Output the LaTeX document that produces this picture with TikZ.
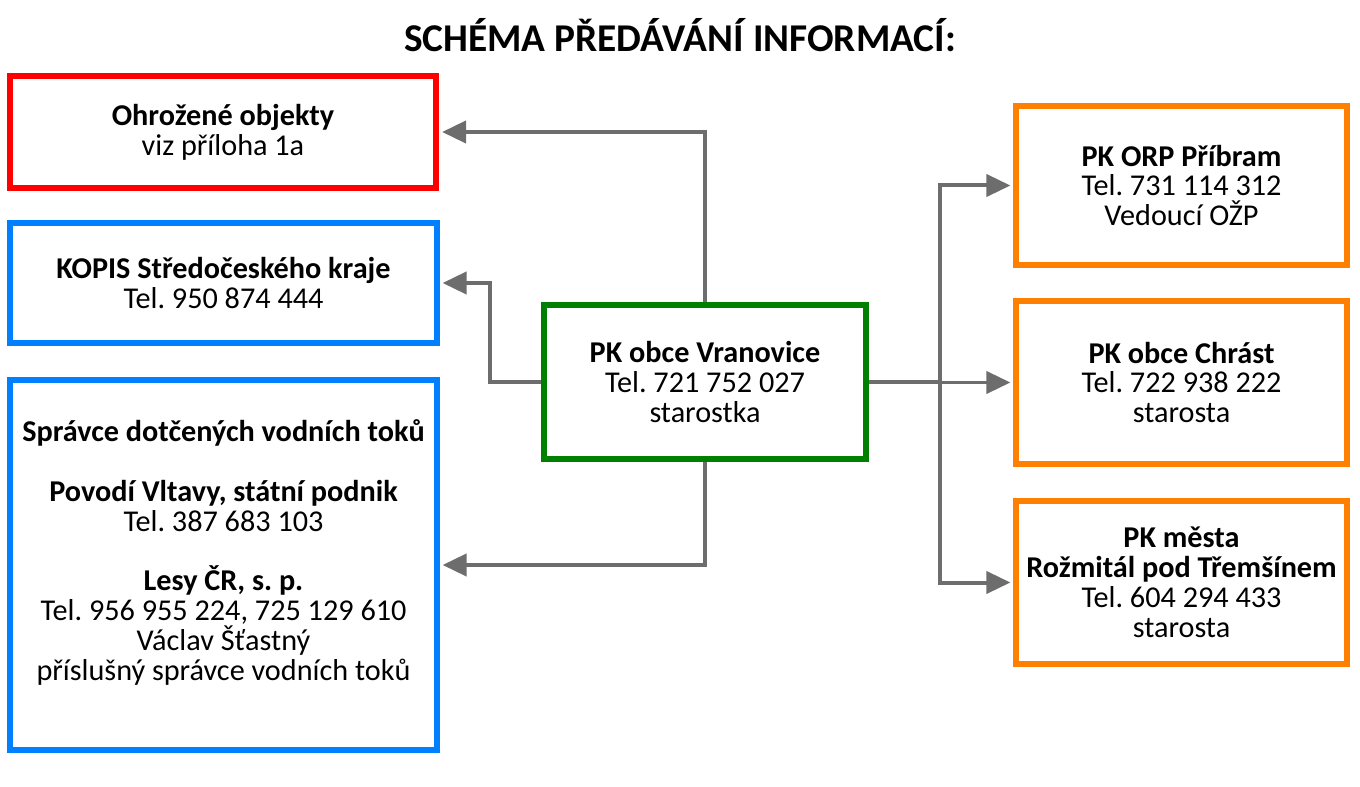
\documentclass[tikz,border=0pt]{standalone}
\usepackage{fontspec}
\setmainfont{Carlito}
\usepackage{tikz}
\usetikzlibrary{arrows.meta,positioning}
\usepackage{xcolor}
\definecolor{redcolor}{RGB}{255, 0, 0}
\definecolor{bluecolor}{RGB}{0, 128, 255}
\definecolor{greencolor}{RGB}{0, 128, 0}
\definecolor{orangecolor}{RGB}{255, 128, 0}
\definecolor{linecolor}{RGB}{109, 109, 109}
\frenchspacing

\begin{document}
\begin{tikzpicture}[
    x=0.02cm, y=-0.02cm,
    box/.style={rectangle, draw, line width=0.12cm, fill=white, align=center, inner sep=0pt, font=\fontsize{17.2}{17}\selectfont},
    leftbox/.style={box, minimum width=8.54cm},
    rightbox/.style={box, minimum width=6.62cm, minimum height=3.26cm, draw=orangecolor},
    line/.style={draw=linecolor, line width=0.08cm},
    conn/.style={line, -{Triangle[length=0.48cm, width=0.44cm]}, shorten >=1.5pt},
]
    \useasboundingbox (0,0) rectangle (1360,787);

    % Title
    \node[font=\bfseries\fontsize{22.4}{26}\selectfont] (title) at (680, 35) {SCHÉMA PŘEDÁVÁNÍ INFORMACÍ:};

    % Left boxes
    \node[leftbox, draw=redcolor, minimum height=2.24cm] (ohrozene) at (223, 132) {\textbf{Ohrožené objekty}\\viz příloha 1a};
    \node[leftbox, draw=bluecolor, minimum height=2.4cm] (kopis) at (223.5, 283) {\textbf{KOPIS Středočeského kraje}\\Tel. 950 874 444};
    \node[leftbox, draw=bluecolor, minimum height=7.4cm] (spravce) at (223.5, 565) {\textbf{Správce dotčených vodních toků}\\~\\\textbf{Povodí Vltavy, státní podnik}\\Tel. 387 683 103\\~\\\textbf{Lesy ČR, s. p.}\\Tel. 956 955 224, 725 129 610\\Václav Šťastný\\příslušný správce vodních toků\\~};

    % Center box
    \node[box, draw=greencolor, minimum width=6.44cm, minimum height=3.08cm] (vranovice) at (705, 382) {\textbf{PK obce Vranovice}\\Tel. 721 752 027\\starostka};

    % Right boxes
    \node[rightbox, minimum height=3.18cm] (orp) at (1181.5, 185.5) {\textbf{PK ORP Příbram}\\Tel. 731 114 312\\ Vedoucí OŽP};
    \node[rightbox] (chrast) at (1181.5, 382.5) {\textbf{PK obce Chrást}\\Tel. 722 938 222\\starosta};
    \node[rightbox] (rozmital) at (1181.5, 582.5) {\textbf{PK města}\\\textbf{Rožmitál pod Třemšínem}\\Tel. 604 294 433\\starosta};

    % Arrows
    \draw[conn] (vranovice.north) |- (ohrozene.east);
    \draw[conn] (vranovice.west) -- ++(-51, 0) |- (kopis.east);
    \draw[conn] (vranovice.south) |- (spravce.east);
    \coordinate (split) at (940, 382);
    \draw[line] (vranovice.east) -- (split);
    \foreach \n in {orp, chrast, rozmital} {
        \draw[conn] (split) |- (\n.west);
    }
\end{tikzpicture}
\end{document}
